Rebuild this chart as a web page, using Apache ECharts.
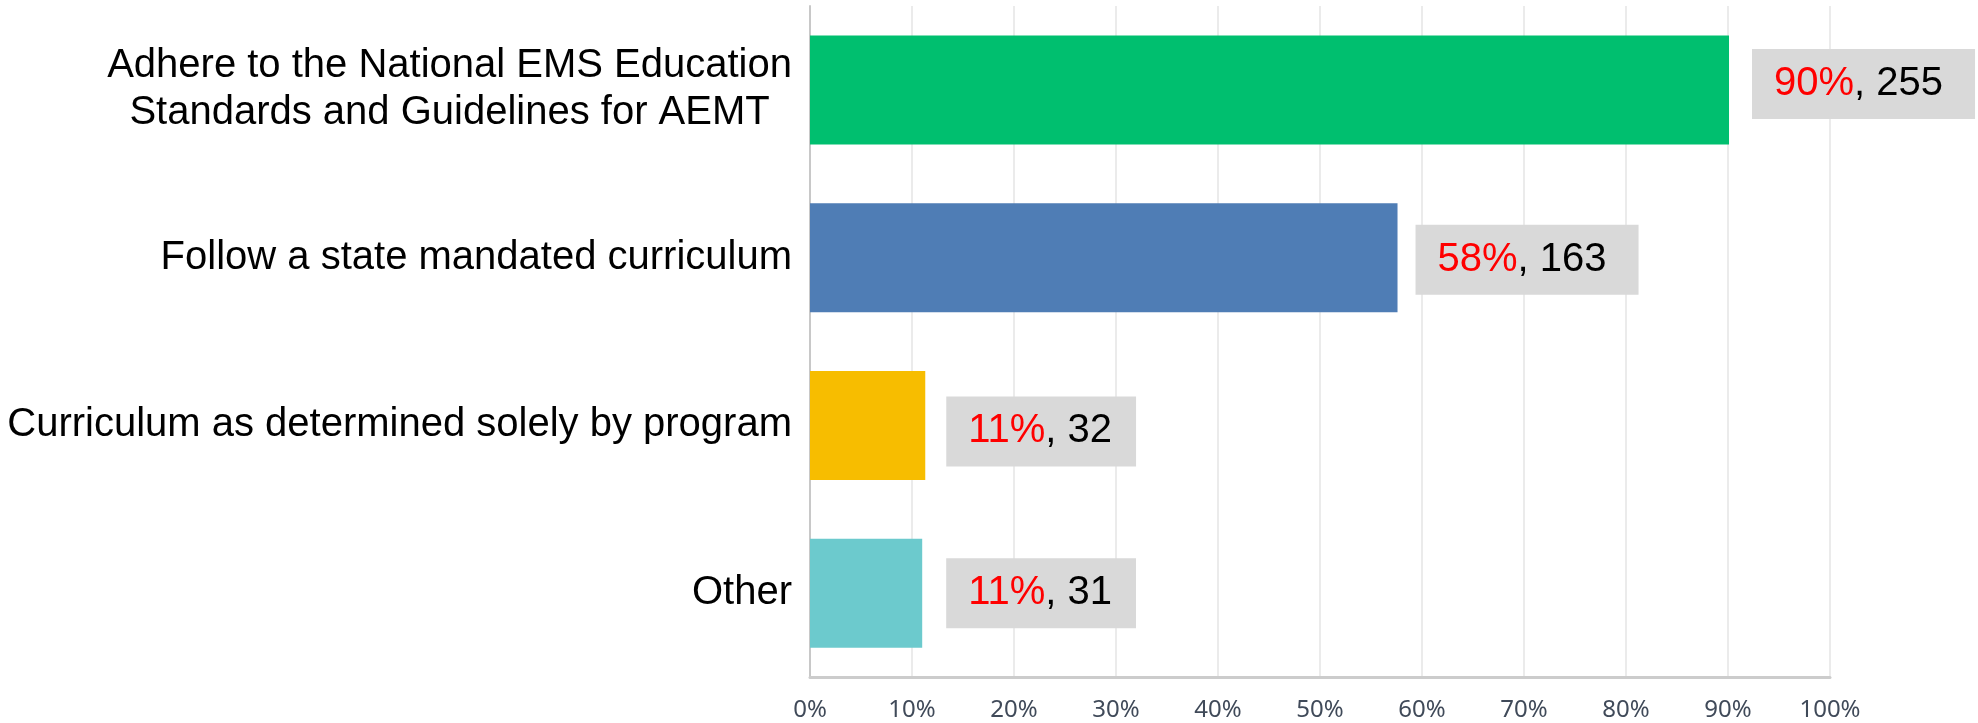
<!DOCTYPE html>
<html>
<head>
<meta charset="utf-8">
<script src="https://cdn.jsdelivr.net/npm/echarts@6/dist/echarts.min.js"></script>
<style>
  html, body { margin: 0; padding: 0; background: #fff; }
  #cnv { width: 1978px; height: 723px; }
</style>
</head>
<body>
<div id="cnv"></div>
<script>
// data
var categories = [
  "Adhere to the National EMS Education\nStandards and Guidelines for AEMT",
  "Follow a state mandated curriculum",
  "Curriculum as determined solely by program",
  "Other"
];
var percents = [90.1, 57.6, 11.3, 11.0];      // bar length, % of respondents
var percentLabels = ["90%", "58%", "11%", "11%"];
var counts = [255, 163, 32, 31];
var barColors = ["#00bf6f", "#4f7db5", "#f7bd00", "#6ccacd"];
var xTicks = [0, 10, 20, 30, 40, 50, 60, 70, 80, 90, 100];

// small per-bar nudges so the grey boxes sit where the original has them
var labelNudge = [[2, -6], [-3, 2], [0, 6], [3, 0]];
var labelPadRight = [32, 32, 24, 24];

var main = document.getElementById("cnv");
var myechart = echarts.init(main);

var barData = percents.map(function (v, i) {
  return {
    value: v,
    itemStyle: { color: barColors[i] },
    label: {
      offset: labelNudge[i],
      padding: [15, labelPadRight[i], 15, 22],
      formatter: "{r|" + percentLabels[i] + "}{k|, " + counts[i] + "}"
    }
  };
});

var option = {
  animation: false,
  grid: { left: 810, right: 148, top: 6, bottom: 46 },
  xAxis: {
    type: "value",
    min: xTicks[0],
    max: xTicks[xTicks.length - 1],
    interval: 10,
    axisLine: { show: true, lineStyle: { color: "#cccccc", width: 3 } },
    axisTick: { show: false },
    splitLine: { show: true, lineStyle: { color: "#ebebeb", width: 2 } },
    axisLabel: {
      formatter: "{value}%",
      fontFamily: "Noto Sans",
      fontSize: 24,
      color: "#404a59",
      margin: 21
    }
  },
  yAxis: {
    type: "category",
    inverse: true,
    data: categories,
    axisLine: { show: true, lineStyle: { color: "#c8c8c8", width: 2 } },
    axisTick: { show: false },
    axisLabel: {
      margin: 18,
      formatter: function (v) {
        return v.split("\n").map(function (s) { return "{c|" + s + "}"; }).join("\n");
      },
      rich: {
        c: {
          fontFamily: "Liberation Sans",
          fontSize: 40,
          lineHeight: 47,
          color: "#000",
          align: "center"
        }
      }
    }
  },
  series: [{
    type: "bar",
    data: barData,
    barWidth: 109,
    label: {
      show: true,
      position: "right",
      distance: 21,
      backgroundColor: "#d9d9d9",
      rich: {
        r: { fontFamily: "Liberation Sans", fontSize: 40, lineHeight: 40, color: "#ff0000" },
        k: { fontFamily: "Liberation Sans", fontSize: 40, lineHeight: 40, color: "#000000" }
      }
    }
  }]
};

myechart.setOption(option);
</script>
</body>
</html>
